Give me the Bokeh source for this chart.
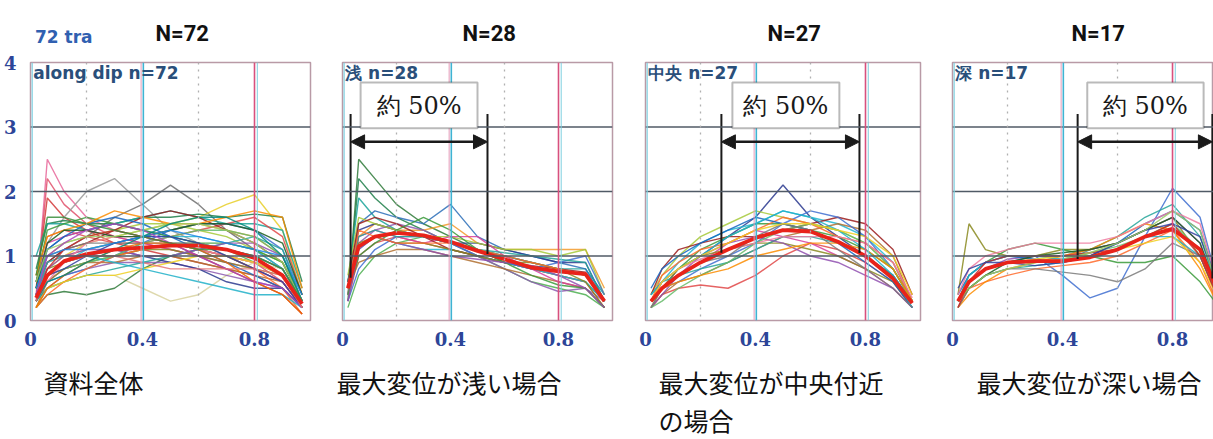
import numpy as np
from bokeh.plotting import figure
from bokeh.layouts import row
from bokeh.models import Label, Span, BoxAnnotation, Arrow, NormalHead, FixedTicker, Title, Div
from bokeh.embed import file_html
from bokeh.resources import INLINE

# ---------------- data ----------------
X = [0.02, 0.06, 0.12, 0.2, 0.3, 0.4, 0.5, 0.6, 0.7, 0.8, 0.9, 0.97]
x_ticks = [0, 0.4, 0.8]
y_ticks = [0, 1, 2, 3, 4]
titles = ["N=72", "N=28", "N=27", "N=17"]
inner_labels = ["along dip n=72", "浅 n=28", "中央 n=27", "深 n=17"]
captions = [["資料全体"], ["最大変位が浅い場合"], ["最大変位が中央付近", "の場合"], ["最大変位が深い場合"]]
corner_label = "72 tra"
box_text = "約 50%"
# extent of the "about 50%" range in each of panels 2-4 (x, fraction of length)
range50 = [None, (0.03, 0.537), (0.276, 0.778), (0.455, 0.945)]

curves1 = [
    [0.3, 2.5, 2.0, 1.6, 1.4, 1.3, 1.2, 1.1, 1.0, 0.9, 0.7, 0.2],
    [0.4, 2.2, 1.8, 1.5, 1.3, 1.2, 1.1, 1.0, 1.0, 0.9, 0.6, 0.2],
    [0.5, 1.9, 1.6, 1.4, 1.2, 1.1, 1.0, 0.9, 0.8, 0.7, 0.5, 0.2],
    [0.6, 1.2, 1.6, 2.0, 2.2, 1.8, 1.4, 1.2, 1.0, 0.9, 0.7, 0.3],
    [0.5, 0.9, 1.1, 1.3, 1.6, 1.8, 2.1, 1.8, 1.4, 1.1, 0.8, 0.3],
    [0.4, 0.8, 1.0, 1.2, 1.3, 1.4, 1.5, 1.6, 1.8, 1.95, 1.4, 0.4],
    [0.3, 0.5, 0.6, 0.7, 0.7, 0.5, 0.3, 0.4, 0.7, 0.9, 0.8, 0.3],
    [0.2, 0.4, 0.45, 0.4, 0.5, 0.8, 1.0, 1.1, 1.0, 0.8, 0.6, 0.2],
    [0.8, 1.5, 1.55, 1.5, 1.5, 1.6, 1.6, 1.65, 1.6, 1.65, 1.6, 0.6],
    [1.0, 1.5, 1.5, 1.4, 1.5, 1.6, 1.7, 1.6, 1.5, 1.5, 1.4, 0.5],
    [0.6, 1.1, 1.3, 1.4, 1.5, 1.4, 1.3, 1.2, 1.1, 1.0, 0.8, 0.3],
    [0.5, 0.9, 1.0, 1.1, 1.2, 1.3, 1.4, 1.5, 1.4, 1.3, 1.0, 0.3],
    [0.3, 0.6, 0.8, 0.9, 1.0, 1.1, 1.2, 1.2, 1.1, 0.9, 0.7, 0.2],
    [0.2, 0.5, 0.7, 0.8, 0.9, 0.9, 0.9, 0.8, 0.7, 0.6, 0.5, 0.2],
    [0.4, 0.7, 0.9, 1.0, 1.1, 1.0, 0.9, 0.8, 0.6, 0.5, 0.5, 0.2],
    [0.7, 1.3, 1.4, 1.3, 1.2, 1.2, 1.3, 1.4, 1.5, 1.6, 1.3, 0.4],
    [0.5, 1.0, 1.2, 1.3, 1.4, 1.5, 1.5, 1.4, 1.3, 1.1, 0.9, 0.3],
    [0.3, 0.7, 0.9, 1.1, 1.2, 1.3, 1.3, 1.3, 1.2, 1.1, 0.8, 0.3],
    [0.2, 0.6, 0.8, 0.9, 0.9, 1.0, 1.0, 0.9, 0.8, 0.7, 0.6, 0.2],
    [0.6, 1.2, 1.3, 1.4, 1.3, 1.2, 1.1, 1.0, 0.9, 0.8, 0.6, 0.2],
    [0.4, 0.9, 1.1, 1.2, 1.4, 1.6, 1.7, 1.6, 1.4, 1.2, 0.9, 0.3],
    [0.3, 0.6, 0.7, 0.8, 1.0, 1.2, 1.4, 1.5, 1.5, 1.4, 1.1, 0.4],
    [0.5, 0.8, 0.9, 1.0, 1.0, 1.1, 1.1, 1.0, 0.9, 0.8, 0.7, 0.3],
    [0.6, 1.4, 1.5, 1.6, 1.5, 1.4, 1.3, 1.2, 1.2, 1.1, 0.9, 0.3],
    [0.3, 0.5, 0.6, 0.7, 0.8, 0.9, 1.0, 1.1, 1.2, 1.3, 1.1, 0.3],
    [0.4, 0.8, 1.0, 1.1, 1.1, 1.0, 1.0, 1.1, 1.2, 1.2, 1.0, 0.3],
    [0.2, 0.4, 0.6, 0.8, 1.0, 1.1, 1.2, 1.1, 1.0, 0.8, 0.5, 0.1],
    [0.5, 1.1, 1.3, 1.5, 1.6, 1.5, 1.3, 1.1, 0.9, 0.7, 0.5, 0.2],
    [0.3, 0.7, 0.8, 0.9, 1.0, 1.2, 1.3, 1.4, 1.4, 1.3, 1.0, 0.3],
    [0.7, 1.3, 1.4, 1.5, 1.7, 1.6, 1.5, 1.5, 1.6, 1.7, 1.6, 0.5],
    [0.4, 0.9, 1.0, 1.0, 0.9, 0.8, 0.7, 0.6, 0.5, 0.4, 0.4, 0.2],
    [0.3, 0.6, 0.9, 1.2, 1.3, 1.3, 1.2, 1.1, 1.0, 0.9, 0.7, 0.2],
    [0.6, 1.0, 1.1, 1.2, 1.2, 1.2, 1.2, 1.2, 1.1, 1.0, 0.8, 0.3],
    [0.2, 0.5, 0.6, 0.7, 0.7, 0.8, 0.9, 1.0, 1.0, 0.9, 0.7, 0.2],
    [0.5, 1.2, 1.4, 1.4, 1.3, 1.3, 1.4, 1.5, 1.5, 1.4, 1.2, 0.4],
    [0.3, 0.8, 1.1, 1.3, 1.4, 1.3, 1.2, 1.0, 0.8, 0.6, 0.4, 0.1],
    [0.4, 0.7, 0.8, 1.0, 1.2, 1.3, 1.3, 1.2, 1.0, 0.8, 0.6, 0.2],
    [0.6, 1.1, 1.2, 1.3, 1.3, 1.4, 1.5, 1.5, 1.4, 1.2, 0.9, 0.3],
    [0.2, 0.5, 0.7, 0.9, 1.1, 1.2, 1.2, 1.1, 0.9, 0.6, 0.4, 0.1],
    [0.5, 1.0, 1.1, 1.1, 1.2, 1.3, 1.4, 1.3, 1.2, 1.1, 1.0, 0.4],
    [0.4, 1.0, 1.2, 1.4, 1.5, 1.4, 1.2, 1.0, 0.8, 0.6, 0.5, 0.2],
    [0.3, 0.6, 0.7, 0.9, 1.1, 1.3, 1.5, 1.6, 1.6, 1.4, 1.0, 0.3],
    [0.7, 1.6, 1.6, 1.5, 1.4, 1.3, 1.2, 1.1, 1.1, 1.0, 0.8, 0.3],
    [0.3, 0.7, 0.9, 1.0, 1.0, 0.9, 0.8, 0.8, 0.8, 0.8, 0.7, 0.2],
]
mean1 = [0.35, 0.7, 0.92, 1.03, 1.1, 1.13, 1.16, 1.16, 1.1, 0.97, 0.7, 0.26]

curves2 = [
    [0.3, 2.5, 2.2, 1.8, 1.5, 1.3, 1.1, 0.9, 0.8, 0.7, 0.6, 0.3],
    [0.4, 2.2, 1.9, 1.6, 1.4, 1.2, 1.1, 1.0, 0.9, 0.8, 0.7, 0.3],
    [0.6, 1.9, 1.6, 1.4, 1.3, 1.2, 1.1, 1.0, 0.9, 0.8, 0.8, 0.4],
    [0.5, 1.5, 1.7, 1.6, 1.5, 1.8, 1.3, 1.1, 1.0, 0.9, 0.8, 0.3],
    [0.4, 1.3, 1.5, 1.4, 1.4, 1.5, 1.2, 1.1, 1.1, 1.1, 1.1, 0.5],
    [0.2, 0.7, 1.0, 1.2, 1.3, 1.2, 1.0, 0.8, 0.6, 0.5, 0.4, 0.2],
    [0.5, 1.2, 1.4, 1.5, 1.4, 1.2, 1.0, 0.8, 0.6, 0.45, 0.5, 0.3],
    [0.6, 1.4, 1.5, 1.4, 1.3, 1.2, 1.2, 1.1, 1.0, 0.9, 0.9, 0.3],
    [0.3, 1.0, 1.2, 1.3, 1.2, 1.1, 1.0, 0.9, 0.8, 0.7, 0.6, 0.2],
    [0.7, 1.6, 1.5, 1.4, 1.3, 1.3, 1.2, 1.1, 1.1, 1.0, 1.1, 0.4],
    [0.4, 1.1, 1.3, 1.2, 1.1, 1.1, 1.0, 0.9, 0.8, 0.7, 0.6, 0.3],
    [0.5, 0.9, 1.0, 1.1, 1.1, 1.0, 0.9, 0.8, 0.7, 0.6, 0.5, 0.2],
    [0.4, 1.3, 1.4, 1.3, 1.2, 1.3, 1.3, 1.0, 0.8, 0.6, 0.5, 0.2],
    [0.6, 1.5, 1.6, 1.5, 1.3, 1.1, 1.0, 0.9, 0.85, 0.8, 0.75, 0.3],
    [0.3, 0.8, 1.1, 1.3, 1.3, 1.2, 1.0, 0.9, 0.8, 0.9, 1.0, 0.4],
    [0.5, 1.2, 1.3, 1.2, 1.2, 1.1, 1.0, 0.9, 0.9, 0.8, 0.6, 0.2],
    [0.4, 1.0, 1.2, 1.4, 1.6, 1.4, 1.1, 0.9, 0.7, 0.55, 0.5, 0.2],
    [0.6, 1.3, 1.4, 1.3, 1.3, 1.2, 1.1, 1.05, 1.0, 0.95, 0.9, 0.3],
    [0.3, 1.1, 1.3, 1.2, 1.1, 1.0, 0.95, 0.9, 0.85, 0.7, 0.5, 0.2],
    [0.5, 1.4, 1.3, 1.2, 1.2, 1.2, 1.1, 1.0, 0.9, 0.8, 0.7, 0.3],
]
mean2 = [0.5, 1.15, 1.3, 1.36, 1.32, 1.22, 1.08, 0.95, 0.82, 0.76, 0.72, 0.3]

curves3 = [
    [0.3, 0.5, 0.8, 1.0, 1.3, 1.6, 2.1, 1.6, 1.3, 1.0, 0.7, 0.3],
    [0.2, 0.4, 0.5, 0.55, 0.5, 0.7, 1.0, 1.2, 1.1, 0.9, 0.6, 0.2],
    [0.4, 0.7, 1.0, 1.3, 1.5, 1.7, 1.6, 1.5, 1.4, 1.2, 0.8, 0.3],
    [0.3, 0.6, 0.9, 1.2, 1.4, 1.5, 1.7, 1.6, 1.5, 1.3, 0.9, 0.3],
    [0.2, 0.4, 0.6, 0.7, 0.9, 1.1, 1.3, 1.4, 1.5, 1.4, 1.0, 0.3],
    [0.3, 0.5, 0.7, 0.9, 1.2, 1.4, 1.3, 1.2, 1.0, 0.8, 0.5, 0.2],
    [0.4, 0.8, 1.1, 1.2, 1.3, 1.3, 1.4, 1.5, 1.6, 1.5, 1.1, 0.4],
    [0.3, 0.5, 0.6, 0.8, 1.0, 1.2, 1.5, 1.7, 1.6, 1.3, 0.8, 0.3],
    [0.2, 0.5, 0.8, 1.0, 1.1, 1.2, 1.2, 1.1, 1.0, 0.8, 0.6, 0.2],
    [0.3, 0.6, 0.8, 1.1, 1.3, 1.5, 1.5, 1.4, 1.3, 1.1, 0.8, 0.3],
    [0.4, 0.6, 0.7, 0.8, 0.9, 1.1, 1.3, 1.3, 1.2, 1.0, 0.7, 0.3],
    [0.2, 0.4, 0.7, 1.0, 1.2, 1.3, 1.2, 1.0, 0.9, 0.7, 0.5, 0.2],
    [0.3, 0.7, 0.9, 1.1, 1.2, 1.4, 1.6, 1.5, 1.3, 1.2, 0.9, 0.3],
    [0.5, 0.8, 1.0, 1.2, 1.4, 1.6, 1.5, 1.4, 1.2, 0.9, 0.6, 0.2],
    [0.2, 0.3, 0.5, 0.7, 0.9, 1.2, 1.4, 1.5, 1.4, 1.2, 0.8, 0.3],
    [0.3, 0.5, 0.6, 0.7, 0.8, 1.0, 1.1, 1.2, 1.2, 1.1, 0.8, 0.3],
    [0.4, 0.6, 0.8, 1.0, 1.3, 1.5, 1.7, 1.6, 1.4, 1.1, 0.7, 0.2],
    [0.3, 0.6, 0.8, 0.95, 1.1, 1.2, 1.3, 1.3, 1.3, 1.2, 0.9, 0.35],
    [0.2, 0.5, 0.7, 0.9, 1.0, 1.3, 1.5, 1.4, 1.1, 0.8, 0.5, 0.2],
    [0.3, 0.6, 0.8, 1.0, 1.2, 1.4, 1.5, 1.5, 1.4, 1.3, 1.0, 0.4],
]
mean3 = [0.3, 0.5, 0.7, 0.9, 1.1, 1.28, 1.4, 1.38, 1.22, 1.0, 0.65, 0.27]

curves4 = [
    [0.3, 0.6, 0.8, 0.9, 1.0, 0.7, 0.35, 0.5, 1.3, 2.05, 1.6, 0.5],
    [0.4, 1.5, 1.1, 1.0, 1.0, 1.1, 1.1, 1.2, 1.4, 1.6, 1.0, 0.3],
    [0.3, 0.7, 0.9, 1.1, 1.2, 1.1, 1.0, 0.9, 0.9, 1.0, 0.6, 0.2],
    [0.2, 0.5, 0.7, 0.8, 0.85, 0.9, 1.1, 1.3, 1.6, 1.8, 1.3, 0.4],
    [0.3, 0.6, 0.8, 0.95, 1.0, 1.0, 1.1, 1.2, 1.4, 1.6, 1.2, 0.3],
    [0.2, 0.5, 0.6, 0.7, 0.8, 0.85, 0.9, 1.0, 1.2, 1.4, 0.9, 0.2],
    [0.4, 0.7, 0.9, 1.0, 0.95, 0.9, 1.0, 1.2, 1.5, 1.7, 1.4, 0.5],
    [0.3, 0.6, 0.8, 0.9, 0.9, 0.95, 1.05, 1.15, 1.3, 1.5, 1.1, 0.3],
    [0.2, 0.4, 0.6, 0.8, 0.9, 1.0, 1.1, 1.3, 1.5, 1.4, 0.8, 0.2],
    [0.3, 0.7, 0.9, 1.0, 1.0, 0.95, 1.0, 1.1, 1.3, 1.3, 1.0, 0.3],
    [0.4, 0.8, 1.0, 1.1, 1.2, 1.2, 1.2, 1.3, 1.5, 1.7, 1.5, 0.5],
    [0.2, 0.5, 0.7, 0.8, 0.8, 0.75, 0.7, 0.6, 0.8, 1.2, 1.0, 0.3],
    [0.3, 0.6, 0.8, 0.9, 0.95, 1.0, 1.0, 1.1, 1.2, 1.3, 0.9, 0.3],
    [0.3, 0.5, 0.7, 0.9, 1.0, 1.05, 1.1, 1.2, 1.4, 1.6, 1.2, 0.4],
    [0.2, 0.6, 0.9, 1.0, 1.0, 1.0, 1.05, 1.1, 1.3, 1.5, 1.0, 0.3],
    [0.5, 0.8, 0.9, 0.9, 0.85, 0.9, 1.0, 1.2, 1.4, 1.5, 1.3, 0.5],
    [0.3, 0.5, 0.7, 0.8, 0.9, 0.95, 1.05, 1.2, 1.4, 1.7, 1.4, 0.4],
]
mean4 = [0.3, 0.6, 0.8, 0.9, 0.92, 0.92, 0.98, 1.1, 1.3, 1.42, 1.1, 0.4]

all_curves = [curves1, curves2, curves3, curves4]
all_means = [mean1, mean2, mean3, mean4]

# ---------------- style ----------------
palette = ["#e8679a", "#e0506a", "#d23a3a", "#9a9a9a", "#6e6e6e", "#e8cf2a", "#d8d2a0", "#2f7a3a",
           "#1f7f4a", "#1aa39a", "#2c6fb8", "#f39a2a", "#4caf50", "#8e5bb0", "#2b3a8f", "#e04848",
           "#a6c93a", "#22b6d2", "#b07030", "#d63e9e", "#9b1c1c", "#3f6fd0", "#8a8a20", "#3a9a3a",
           "#26a69a", "#9050b0", "#ff6a2a", "#1565c0", "#66bb6a", "#fb8c00", "#20b0c8", "#f07aa0",
           "#7a7a7a", "#f0d020", "#1b5e20", "#c62828", "#303f9f", "#9ccc65", "#ef6c00", "#1e88e5",
           "#ab47bc", "#00897b", "#388e3c", "#e57373"]

NAVY = "#2d4598"
H = 439
TOP, BOTTOM = 62, 119
geom = [(1.0, 30, 16), (1.0, 16, 16), (1.0, 17, 16), (0.949, 16, 0)]
frame_w = [280, 270, 275, 261]
boxes = [None, (0.067, 0.5), (0.316, 0.705), (0.49, 0.913)]
cap_off = [13, -6, 13, 24]
title_off = [125, 120, 122, 119]

figs = []
for i in range(4):
    xmax, bl, br = geom[i]
    w = bl + frame_w[i] + br
    p = figure(width=w, height=H, x_range=(0, xmax), y_range=(0, 4),
               output_backend="svg", toolbar_location=None,
               min_border_left=bl, min_border_right=br,
               min_border_top=TOP, min_border_bottom=BOTTOM)
    p.background_fill_color = "white"
    p.border_fill_color = "white"
    p.outline_line_color = "#b99aa6"
    p.outline_line_width = 1.5
    p.xgrid.visible = False
    p.ygrid.visible = False

    # title (N=..)
    p.title.text = titles[i]
    p.title.align = "left"
    p.title.offset = title_off[i]
    p.title.text_font = "Roboto"
    p.title.text_font_style = "bold"
    p.title.text_font_size = "22px"
    p.title.text_color = "#111111"
    p.title.standoff = 33

    p.xaxis.ticker = FixedTicker(ticks=x_ticks)
    p.xaxis.axis_line_color = None
    p.xaxis.major_tick_line_color = None
    p.xaxis.minor_tick_line_color = None
    p.xaxis.major_label_text_font = "DejaVu Serif"
    p.xaxis.major_label_text_font_style = "bold"
    p.xaxis.major_label_text_font_size = "18px"
    p.xaxis.major_label_text_color = NAVY
    p.xaxis.major_label_standoff = 5
    if i == 0:
        p.yaxis.ticker = FixedTicker(ticks=y_ticks)
        p.yaxis.axis_line_color = None
        p.yaxis.major_tick_line_color = None
        p.yaxis.minor_tick_line_color = None
        p.yaxis.major_label_text_font = "DejaVu Serif"
        p.yaxis.major_label_text_font_style = "bold"
        p.yaxis.major_label_text_font_size = "18px"
        p.yaxis.major_label_text_color = NAVY
        p.yaxis.major_label_standoff = 8
    else:
        p.yaxis.visible = False

    # captions below the panel
    for j, c in enumerate(captions[i]):
        p.add_layout(Title(text=c, align="left", offset=cap_off[i], text_font="Noto Sans CJK JP",
                           text_font_style="normal", text_font_size="25px",
                           text_color="#111111", standoff=(26 if j == 0 else -25)), "below")

    # grid lines
    for yv in [1, 2, 3]:
        p.add_layout(Span(location=yv, dimension="width", line_color="#505a66", line_width=1.4))
    for xv in [0.2, 0.6]:
        p.add_layout(Span(location=xv, dimension="height", line_color="#b0b0b0",
                          line_width=1.3, line_dash="2 5"))
    p.add_layout(Span(location=0.395, dimension="height", line_color="#e59ab8", line_width=1))
    p.add_layout(Span(location=0.403, dimension="height", line_color="#3fb3d3", line_width=1.6))
    p.add_layout(Span(location=0.8, dimension="height", line_color="#d8507e", line_width=1.6))
    p.add_layout(Span(location=0.81, dimension="height", line_color="#7fd0e0", line_width=1))
    p.add_layout(Span(location=0.006, dimension="height", line_color="#7fd0e0", line_width=1.2))

    curves = all_curves[i]
    cols = [palette[(k + 7 * i) % len(palette)] for k in range(len(curves))]
    p.multi_line(xs=[X] * len(curves), ys=curves, line_color=cols, line_width=1.4, line_alpha=0.85)
    p.line(X, all_means[i], line_color="#e8231a", line_width=3.8)

    p.add_layout(Label(x=0.01, y=3.84, text=inner_labels[i], text_font="DejaVu Sans",
                       text_font_style="bold", text_font_size="17px", text_color="#2a4f7a",
                       text_align="left", text_baseline="middle"))

    # "about 50%" annotation
    if range50[i] is not None:
        a, b = range50[i]
        ya = float(np.interp(a, X, all_means[i]))
        yb = float(np.interp(b, X, all_means[i]))
        p.segment(x0=[a, b], y0=[3.2, 3.2], x1=[a, b], y1=[ya, yb], line_color="#1a1a1a", line_width=2)
        bx0, bx1 = boxes[i]
        p.add_layout(BoxAnnotation(left=bx0, right=bx1, bottom=2.98, top=3.69,
                                   fill_color="white", fill_alpha=1.0,
                                   line_color="#1a1a1a", line_width=2))
        p.add_layout(Label(x=(bx0 + bx1) / 2, y=3.33, text=box_text, text_font="DejaVu Serif",
                           text_font_size="24px", text_color="#1a1a1a",
                           text_align="center", text_baseline="middle"))
        p.add_layout(Arrow(start=NormalHead(size=14, fill_color="#1a1a1a", line_color="#1a1a1a"),
                           end=NormalHead(size=14, fill_color="#1a1a1a", line_color="#1a1a1a"),
                           x_start=a, y_start=2.77, x_end=b, y_end=2.77,
                           line_color="#1a1a1a", line_width=2.5))
    figs.append(p)

corner = Div(text=corner_label, width=80, height=22,
             styles={"position": "absolute", "left": "30px", "top": "21px", "z-index": "10",
                     "color": "#3060b0", "font-family": "DejaVu Sans", "font-weight": "bold",
                     "font-size": "17px", "line-height": "22px"})

layout = row(corner, *figs, spacing=0)
open("out.html", "w").write(file_html(layout, INLINE))
